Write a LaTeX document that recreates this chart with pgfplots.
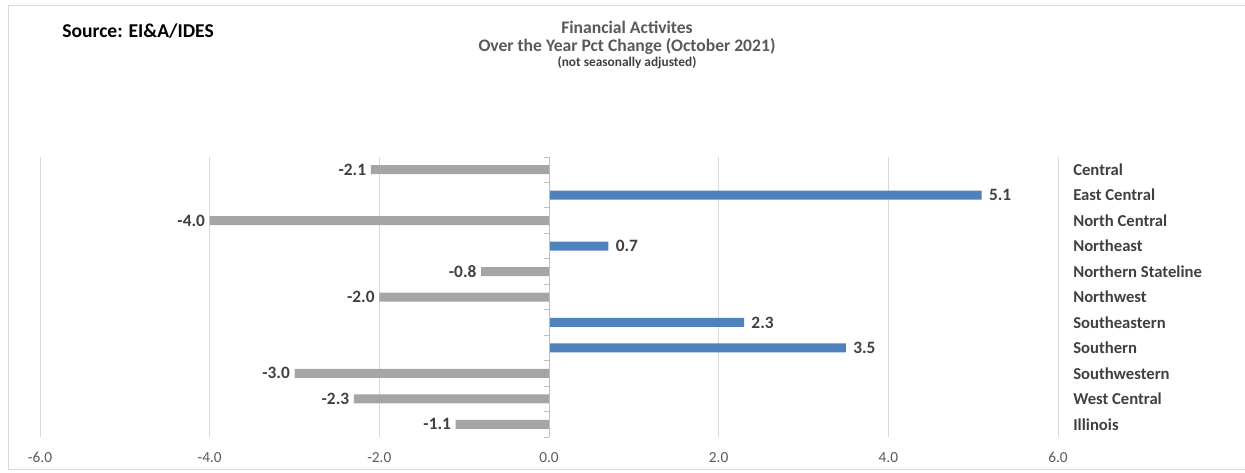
\documentclass[border=0pt]{standalone}
\usepackage{fontspec}
\setmainfont{Carlito}
\usepackage{pgfplots}
\pgfplotsset{compat=1.18}
\definecolor{barblue}{HTML}{4F81BD}
\definecolor{bargray}{HTML}{A5A5A5}
\definecolor{txt}{HTML}{404040}
\definecolor{ticktxt}{HTML}{595959}
\definecolor{gridc}{HTML}{D9D9D9}
\definecolor{axc}{HTML}{BFBFBF}
\begin{document}
\begin{tikzpicture}
\useasboundingbox (0,0) rectangle (933.75pt,-354.75pt);
\draw[gridc, line width=0.75pt] (6pt,-4.5pt) rectangle (945pt,-352pt);
\node[anchor=west, inner sep=0pt, font=\bfseries\fontsize{14.7}{16}\selectfont] at (46.5pt,-23.25pt) {Source: EI\&A/IDES};
\node[inner sep=0pt, text=ticktxt, font=\bfseries\fontsize{13.2}{15}\selectfont] at (470.25pt,-20.25pt) {Financial Activites};
\node[inner sep=0pt, text=ticktxt, font=\bfseries\fontsize{13.2}{15}\selectfont] at (470.25pt,-34.5pt) {Over the Year Pct Change (October 2021)};
\node[inner sep=0pt, text=txt, font=\bfseries\fontsize{10}{11}\selectfont] at (470.25pt,-47.25pt) {(not seasonally adjusted)};
\begin{axis}[
  at={(30pt,-117.75pt)}, anchor=north west,
  scale only axis, width=763.5pt, height=210pt,
  xmin=-6, xmax=6, ymin=0.5, ymax=11.5, y dir=reverse,
  xbar, bar width=6.75pt, bar shift=0pt,
  axis line style={draw=none},
  xtick={-6,-4,-2,0,2,4,6}, ytick={1,2,3,4,5,6,7,8,9,10,11},
  yticklabels={Central, East Central, North Central, Northeast, Northern Stateline, Northwest, Southeastern, Southern, Southwestern, West Central, Illinois},
  yticklabel pos=right,
  major tick length=0pt,
  xmajorgrids, grid style={gridc, line width=0.75pt},
  /pgf/number format/.cd, fixed, fixed zerofill, precision=1, assume math mode=true,
  /pgfplots/.cd,
  xticklabel style={text=ticktxt, font=\fontsize{11.5}{13}\selectfont, anchor=base, yshift=-19pt},
  yticklabel style={text=txt, font=\bfseries\fontsize{12.5}{14}\selectfont, anchor=west, inner sep=0pt, xshift=11.25pt},
  nodes near coords,
  every node near coord/.append style={text=txt, font=\bfseries\fontsize{13}{14}\selectfont},
]
\addplot[fill=bargray, draw=none, every node near coord/.append style={anchor=east}] coordinates {(-2.1,1) (-4.0,3) (-0.8,5) (-2.0,6) (-3.0,9) (-2.3,10) (-1.1,11)};
\addplot[fill=barblue, draw=none, every node near coord/.append style={anchor=west, xshift=2pt}] coordinates {(5.1,2) (0.7,4) (2.3,7) (3.5,8)};
\draw[axc, line width=0.75pt] (axis cs:0,0.5) -- (axis cs:0,11.5);
\pgfplotsinvokeforeach{0.5,1.5,2.5,3.5,4.5,5.5,6.5,7.5,8.5,9.5,10.5,11.5}{
  \draw[axc, line width=0.75pt] (axis cs:0,#1) -- ([xshift=-3.75pt]axis cs:0,#1);
}
\end{axis}
\end{tikzpicture}
\end{document}
